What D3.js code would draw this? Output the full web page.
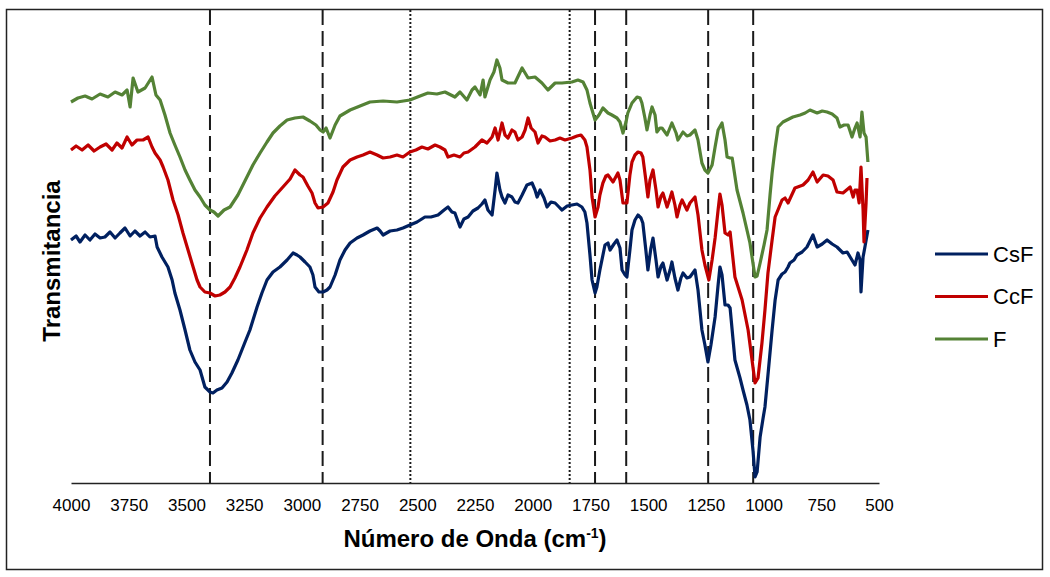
<!DOCTYPE html>
<html>
<head>
<meta charset="utf-8">
<script src="https://cdn.jsdelivr.net/npm/d3@7"></script>
<style>
  body { margin: 0; background: #fff; }
  svg text { font-family: "Liberation Sans", Arial, sans-serif; }
</style>
</head>
<body>
<div id="chart"></div>
<script>
// series names + colours (legend order)
var seriesNames = ['CsF', 'CcF', 'F'];
var seriesColors = ['#002060', '#c00000', '#548235'];

// x tick labels (cm-1)
var xTicks = [4000, 3750, 3500, 3250, 3000, 2750, 2500, 2250, 2000, 1750, 1500, 1250, 1000, 750, 500];

// band markers
var dashedBands = [3398, 2910, 1730, 1595, 1240, 1045];
var dottedBands = [2530, 1840];

// [wavenumber, transmitance (arb. units)]
var CsF = [
  [4000,243],[3978,247],[3961,241],[3939,248],[3918,243],[3896,249],[3874,245],[3853,246],[3831,251],[3809,245],
  [3788,250],[3766,255],[3744,247],[3723,252],[3701,247],[3679,251],[3658,246],[3636,247],[3627,236],[3606,226],
  [3580,216],[3562,203],[3550,190],[3528,173],[3506,153],[3485,133],[3463,121],[3441,113],[3420,96],[3398,91],
  [3385,90],[3368,93],[3346,95],[3324,101],[3303,110],[3277,123],[3246,141],[3225,153],[3194,176],[3173,190],
  [3151,203],[3125,211],[3095,216],[3064,223],[3038,230],[3021,228],[3008,226],[2986,221],[2965,216],[2952,208],
  [2943,196],[2926,191],[2908,191],[2891,193],[2878,196],[2856,208],[2835,223],[2813,233],[2791,240],[2761,245],
  [2735,248],[2705,252],[2674,255],[2661,252],[2648,248],[2618,252],[2588,253],[2562,255],[2532,258],[2501,261],
  [2467,266],[2441,266],[2410,268],[2384,273],[2367,276],[2350,271],[2337,270],[2315,256],[2298,264],[2280,266],
  [2259,272],[2237,275],[2220,279],[2207,283],[2194,273],[2176,268],[2163,293],[2155,310],[2142,293],[2133,286],
  [2120,280],[2107,288],[2090,286],[2077,281],[2064,280],[2046,288],[2025,298],[2003,300],[1990,293],[1981,286],
  [1968,293],[1951,285],[1938,276],[1921,281],[1903,280],[1886,276],[1873,273],[1851,277],[1830,278],[1808,279],
  [1787,276],[1774,271],[1765,260],[1752,228],[1743,203],[1730,190],[1722,196],[1709,213],[1687,238],[1674,240],
  [1665,233],[1648,239],[1635,243],[1622,235],[1613,213],[1600,208],[1592,206],[1579,233],[1570,253],[1557,263],
  [1544,268],[1531,265],[1523,260],[1510,233],[1501,213],[1488,235],[1479,245],[1466,223],[1457,206],[1444,217],
  [1436,220],[1418,203],[1405,213],[1397,221],[1384,205],[1371,193],[1358,205],[1349,210],[1332,205],[1319,206],
  [1297,213],[1284,193],[1267,153],[1254,138],[1241,121],[1228,138],[1210,166],[1197,198],[1189,216],[1180,208],
  [1167,178],[1154,178],[1145,175],[1124,123],[1102,105],[1089,93],[1072,78],[1059,63],[1046,33],[1037,6],
  [1028,11],[1015,46],[1002,65],[994,76],[981,108],[963,153],[950,183],[937,203],[920,209],[907,211],
  [894,216],[886,220],[868,223],[855,228],[833,231],[812,236],[786,248],[768,236],[746,239],[725,243],
  [703,239],[682,236],[656,230],[638,231],[625,226],[604,218],[591,230],[582,223],[578,191],[569,226],
  [561,236],[548,253]
];

var CcF = [
  [4000,333],[3978,337],[3952,333],[3926,338],[3900,332],[3874,336],[3848,339],[3822,333],[3801,340],[3779,335],
  [3757,346],[3736,338],[3714,343],[3688,343],[3666,346],[3649,336],[3636,330],[3614,323],[3601,316],[3580,303],
  [3558,283],[3536,268],[3515,250],[3493,233],[3471,216],[3454,203],[3441,196],[3420,191],[3398,190],[3376,187],
  [3355,188],[3333,191],[3311,196],[3290,205],[3268,216],[3238,233],[3212,250],[3181,265],[3151,276],[3117,287],
  [3082,296],[3051,304],[3030,313],[3008,308],[2995,306],[2974,297],[2956,290],[2943,280],[2930,275],[2908,276],
  [2887,280],[2865,291],[2848,303],[2822,316],[2791,323],[2761,326],[2735,328],[2705,331],[2674,328],[2648,325],
  [2618,326],[2588,328],[2562,326],[2532,331],[2506,333],[2480,336],[2454,334],[2423,338],[2402,336],[2380,333],
  [2367,326],[2341,328],[2315,326],[2298,330],[2280,331],[2250,336],[2220,343],[2198,340],[2176,346],[2163,355],
  [2150,343],[2133,360],[2120,348],[2107,345],[2090,353],[2077,351],[2064,343],[2046,346],[2033,353],[2020,365],
  [2007,355],[1990,351],[1977,340],[1960,347],[1947,346],[1925,342],[1903,343],[1882,345],[1860,343],[1830,345],
  [1808,347],[1791,348],[1774,343],[1765,336],[1752,313],[1743,286],[1730,266],[1717,276],[1709,288],[1696,300],
  [1683,307],[1674,308],[1652,301],[1631,310],[1622,303],[1609,280],[1592,280],[1579,308],[1570,321],[1557,328],
  [1544,331],[1531,330],[1523,326],[1510,303],[1501,286],[1492,303],[1479,313],[1466,293],[1457,276],[1444,287],
  [1436,290],[1418,276],[1405,285],[1397,291],[1384,278],[1375,266],[1362,278],[1353,283],[1332,273],[1319,280],
  [1297,286],[1284,268],[1267,233],[1254,218],[1237,203],[1223,223],[1210,245],[1197,273],[1189,289],[1180,278],
  [1167,250],[1154,248],[1145,251],[1124,206],[1093,183],[1067,153],[1050,123],[1037,100],[1024,105],[1007,140],
  [994,173],[981,210],[963,243],[950,266],[920,283],[907,285],[894,280],[864,295],[829,298],[807,303],
  [786,311],[768,301],[742,308],[721,307],[699,303],[682,291],[656,290],[625,296],[612,286],[604,293],
  [595,293],[586,280],[578,316],[569,273],[565,241],[556,280],[552,305]
];

var F = [
  [4000,381],[3970,385],[3939,387],[3909,384],[3874,389],[3840,386],[3809,391],[3779,388],[3757,393],[3744,376],
  [3731,405],[3710,391],[3679,395],[3649,406],[3632,388],[3614,383],[3593,368],[3571,350],[3550,338],[3528,326],
  [3506,313],[3485,303],[3463,293],[3441,286],[3420,278],[3398,273],[3381,271],[3363,267],[3337,273],[3311,276],
  [3277,288],[3238,306],[3212,318],[3181,330],[3151,341],[3125,350],[3095,357],[3064,363],[3030,365],[2995,366],
  [2965,362],[2939,358],[2921,353],[2908,351],[2895,355],[2878,345],[2856,358],[2835,367],[2791,373],[2748,377],
  [2705,381],[2648,382],[2588,381],[2532,383],[2488,387],[2454,390],[2415,389],[2380,391],[2337,386],[2315,391],
  [2285,383],[2263,393],[2250,396],[2228,388],[2215,403],[2207,386],[2185,403],[2168,411],[2155,423],[2142,415],
  [2133,403],[2107,400],[2077,400],[2046,415],[2020,405],[1990,406],[1960,400],[1934,393],[1903,400],[1873,400],
  [1830,401],[1804,403],[1782,401],[1765,393],[1752,380],[1730,363],[1713,368],[1696,375],[1674,370],[1657,368],
  [1635,365],[1622,361],[1609,350],[1596,361],[1588,370],[1570,380],[1548,386],[1535,385],[1527,380],[1514,365],
  [1505,353],[1492,368],[1483,376],[1470,368],[1462,351],[1449,355],[1440,355],[1418,348],[1397,360],[1379,350],
  [1371,343],[1349,351],[1332,347],[1319,348],[1297,353],[1284,343],[1267,320],[1254,313],[1241,310],[1223,318],
  [1210,336],[1197,353],[1180,360],[1167,343],[1158,326],[1145,325],[1136,325],[1115,293],[1089,270],[1059,240],
  [1037,206],[1028,207],[1015,220],[998,238],[985,253],[972,288],[963,310],[950,335],[937,356],[916,361],
  [899,363],[873,366],[842,368],[820,370],[799,373],[768,370],[746,372],[725,371],[703,369],[682,365],
  [669,356],[651,358],[634,358],[617,346],[604,355],[595,360],[582,346],[574,371],[565,350],[556,346],
  [548,321]
];

var allSeries = [CsF, CcF, F];

function drawChart() {
  var W = 1050, H = 577;
  var plot = { left: 71, right: 879, top: 10, bottom: 483 };

  var svg = d3.select('#chart').append('svg')
    .attr('width', W).attr('height', H);

  // outer frame
  svg.append('rect')
    .attr('x', 6.5).attr('y', 9.5)
    .attr('width', 1036).attr('height', 560)
    .attr('fill', 'none')
    .attr('stroke', '#222')
    .attr('stroke-width', 1.5);

  var x = d3.scaleLinear().domain([4000, 500]).range([plot.left, plot.right]);
  var y = d3.scaleLinear().domain([0, 473]).range([plot.bottom, plot.top]);

  // band markers
  svg.selectAll('.dashBand')
    .data(dashedBands)
    .enter().append('line')
    .attr('class', 'dashBand')
    .attr('x1', function (d) { return x(d); })
    .attr('x2', function (d) { return x(d); })
    .attr('y1', plot.top)
    .attr('y2', plot.bottom)
    .attr('stroke', '#1a1a1a')
    .attr('stroke-width', 2)
    .attr('stroke-dasharray', '15,6');

  svg.selectAll('.dotBand')
    .data(dottedBands)
    .enter().append('line')
    .attr('class', 'dotBand')
    .attr('x1', function (d) { return x(d); })
    .attr('x2', function (d) { return x(d); })
    .attr('y1', plot.top)
    .attr('y2', plot.bottom)
    .attr('stroke', '#1a1a1a')
    .attr('stroke-width', 2)
    .attr('stroke-dasharray', '2,2');

  // x axis
  var xAxis = d3.axisBottom(x)
    .tickValues(xTicks)
    .tickFormat(d3.format('d'))
    .tickSize(0)
    .tickPadding(16);
  var gx = svg.append('g')
    .attr('transform', 'translate(0,' + plot.bottom + ')')
    .call(xAxis);
  gx.select('.domain').attr('stroke', '#222').attr('stroke-width', 1.5);
  gx.selectAll('text')
    .style('font-size', '17px')
    .attr('fill', '#000');

  // spectra
  var line = d3.line()
    .x(function (d) { return x(d[0]); })
    .y(function (d) { return y(d[1]); });

  svg.selectAll('.spectrum')
    .data(allSeries)
    .enter().append('path')
    .attr('class', 'spectrum')
    .attr('d', line)
    .attr('fill', 'none')
    .attr('stroke', function (d, i) { return seriesColors[i]; })
    .attr('stroke-width', 3.2)
    .attr('stroke-linejoin', 'round');

  // axis titles
  var xt = svg.append('text')
    .attr('x', 475)
    .attr('y', 547)
    .attr('text-anchor', 'middle')
    .style('font-size', '24px')
    .style('font-weight', 'bold');
  xt.append('tspan').text('Número de Onda (cm');
  xt.append('tspan').attr('dy', -9).style('font-size', '14px').text('-1');
  xt.append('tspan').attr('dy', 9).text(')');

  svg.append('text')
    .attr('transform', 'translate(60,261) rotate(-90)')
    .attr('text-anchor', 'middle')
    .style('font-size', '24px')
    .style('font-weight', 'bold')
    .text('Transmitancia');

  // legend
  var legend = svg.append('g').attr('transform', 'translate(935,254)');
  var item = legend.selectAll('g')
    .data(seriesNames)
    .enter().append('g')
    .attr('transform', function (d, i) { return 'translate(0,' + (i * 42.5) + ')'; });
  item.append('line')
    .attr('x1', 0).attr('x2', 53)
    .attr('stroke', function (d, i) { return seriesColors[i]; })
    .attr('stroke-width', 3.2);
  item.append('text')
    .attr('x', 58)
    .attr('dy', '0.35em')
    .style('font-size', '22px')
    .text(function (d) { return d; });
}

drawChart();
</script>
</body>
</html>
